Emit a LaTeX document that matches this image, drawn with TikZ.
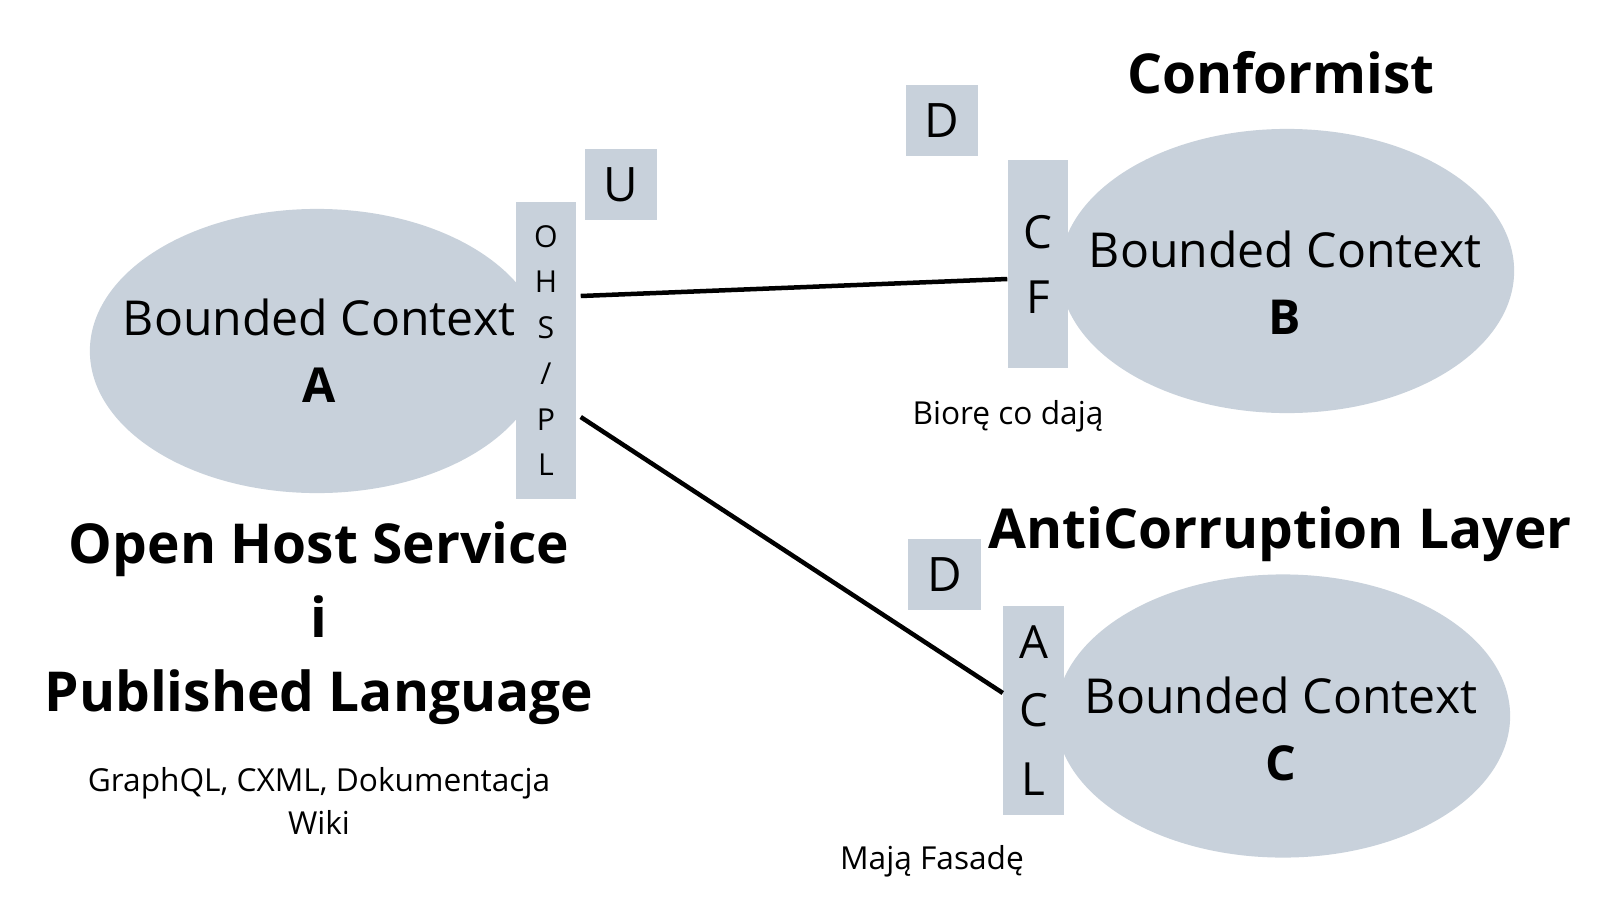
\documentclass[tikz,border=0pt]{standalone}
\usepackage{fontspec}
\setmainfont{Open Sans}
\usetikzlibrary{shapes.geometric}
\definecolor{ctxgray}{RGB}{200,209,219}

\begin{document}
\begin{tikzpicture}[x=0.01cm,y=-0.01cm,
    context/.style={ellipse,fill=ctxgray,minimum width=4.54cm,minimum height=2.84cm,inner sep=0pt},
    ctxtext/.style={align=center,font=\fontsize{13.7}{19}\selectfont},
    bar/.style={fill=ctxgray,minimum width=0.6cm,inner sep=0pt,align=center},
    tag/.style={fill=ctxgray,minimum width=0.72cm,minimum height=0.71cm,inner sep=0pt,font=\fontsize{13.5}{16}\selectfont},
    title/.style={align=center,font=\fontsize{15.65}{21}\bfseries},
    note/.style={align=center,font=\fontsize{9}{12}\selectfont},
    link/.style={line width=0.45mm}]

\fill[white] (0,0) rectangle (1600,900);
\useasboundingbox (0,0) rectangle (1600,900);

\node[context] (ctxA) at (317,351) {};
\node[context] (ctxB) at (1287,271) {};
\node[context,minimum height=2.83cm] (ctxC) at (1283,716) {};
\node[ctxtext] (txtA) at ([shift={(2,0)}]ctxA.center) {Bounded Context\\\textbf{A}};
\node[ctxtext] (txtB) at ([shift={(-2,12)}]ctxB.center) {Bounded Context\\\textbf{B}};
\node[ctxtext] (txtC) at ([shift={(-2,13)}]ctxC.center) {Bounded Context\\\textbf{C}};

\node[bar,minimum height=2.97cm,font=\fontsize{8.6}{13}\selectfont] (ohs) at (546,350.5) {O\\H\\S\\/\\P\\L};
\node[bar,minimum height=2.08cm,font=\fontsize{13}{18.5}\selectfont] (cf) at (1038,264) {C\\F};
\node[bar,minimum height=2.09cm,font=\fontsize{13}{19.4}\selectfont] (acl) at (1033.5,710.5) {A\\C\\L};

\node[tag] (up) at (621,184.5) {U};
\node[tag] (downB) at (942,120.5) {D};
\node[tag] (downC) at (944.5,574.5) {D};

\draw[link] ([shift={(4,-54.5)}]ohs.east) -- ([shift={(0,15)}]cf.west);
\draw[link] ([shift={(4,66.5)}]ohs.east) -- ([shift={(0,-17.5)}]acl.west);

\node[title,anchor=base] (conformist) at (1281,93) {Conformist};
\node[title,anchor=base] (anticorr) at (1280,548) {AntiCorruption Layer};
\node[title] (ohspl) at (319,623) {Open Host Service\\i\\Published Language};

\node[note] (formats) at (319,801) {GraphQL, CXML, Dokumentacja\\Wiki};
\node[note] (confnote) at (1008,416) {Biorę co dają};
\node[note] (aclnote) at (932,861) {Mają Fasadę};

\end{tikzpicture}
\end{document}
